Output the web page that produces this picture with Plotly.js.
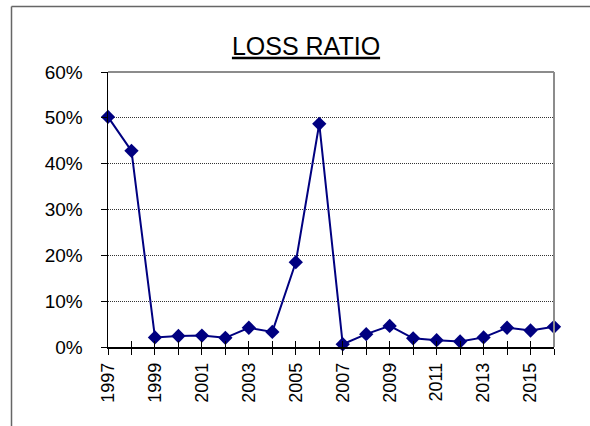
<!DOCTYPE html>
<html>
<head>
<meta charset="utf-8">
<script src="https://cdn.plot.ly/plotly-3.0.1.min.js"></script>
<style>
html,body{margin:0;padding:0;background:#fff;}
#chart{width:590px;height:426px;}
</style>
</head>
<body>
<div id="chart"></div>
<script>
var years = [1997,1998,1999,2000,2001,2002,2003,2004,2005,2006,2007,2008,2009,2010,2011,2012,2013,2014,2015,2016];
var lossRatio = [0.502,0.428,0.021,0.024,0.025,0.020,0.042,0.033,0.185,0.487,0.006,0.028,0.046,0.019,0.015,0.012,0.021,0.042,0.036,0.044];
var yTicks = [0,0.1,0.2,0.3,0.4,0.5,0.6];
var xLabelYears = [1997,1999,2001,2003,2005,2007,2009,2011,2013,2015];

var W = 590, H = 426, L = 108, R = 36, T = 72, B = 79;
var pw = W - L - R, ph = H - T - B;
function px(x){ return (x - L) / pw; }
function py(y){ return (H - B - y) / ph; }

var trace = {
  x: years, y: lossRatio, type: 'scatter', mode: 'lines+markers',
  line: {color: '#000080', width: 2},
  marker: {symbol: 'diamond', size: 11, color: '#000080'},
  cliponaxis: false, hoverinfo: 'skip', showlegend: false
};
var dummy = {x: [years[0]], y: [0], xaxis: 'x2', type: 'scatter', mode: 'markers',
  marker: {opacity: 0}, hoverinfo: 'skip', showlegend: false};

var layout = {
  width: W, height: H,
  margin: {l: L, r: R, t: T, b: B},
  paper_bgcolor: '#ffffff', plot_bgcolor: '#ffffff',
  font: {family: 'Liberation Sans, Arial, sans-serif', color: '#000'},
  title: {
    text: 'LOSS RATIO',
    font: {family: 'Liberation Sans, Arial, sans-serif', size: 25, color: '#000', lineposition: 'under'},
    x: 306 / W, xref: 'container', xanchor: 'center',
    y: 1 - 46 / H, yref: 'container', yanchor: 'middle'
  },
  xaxis: {
    type: 'linear', range: [years[0], years[years.length - 1]],
    tickmode: 'array', tickvals: xLabelYears, ticktext: xLabelYears.map(String),
    tickangle: -90, ticks: 'outside', ticklen: 6, tickcolor: '#000', tickwidth: 1,
    minor: {tickmode: 'array', tickvals: years, ticks: 'outside', ticklen: 6, tickcolor: '#000', tickwidth: 1, showgrid: false},
    tickfont: {family: 'Liberation Sans Narrow, Arial Narrow, sans-serif', size: 18, color: '#000'},
    showline: true, linecolor: '#000', linewidth: 1.5,
    showgrid: false, zeroline: false, fixedrange: true, ticklabelstandoff: 1
  },
  xaxis2: {
    overlaying: 'x', matches: 'x', type: 'linear', range: [years[0], years[years.length - 1]],
    tickmode: 'array', tickvals: years, ticks: 'inside', ticklen: 6, tickcolor: '#000', tickwidth: 1,
    showticklabels: false, showline: false, showgrid: false, zeroline: false, side: 'bottom', anchor: 'y'
  },
  yaxis: {
    range: [0, 0.6], tickmode: 'array', tickvals: yTicks, tickformat: '.0%',
    ticks: 'outside', ticklen: 6, tickcolor: '#000', tickwidth: 1,
    tickfont: {family: 'Liberation Sans, Arial, sans-serif', size: 19, color: '#000'},
    showline: true, linecolor: '#000', linewidth: 1.5,
    showgrid: true, gridcolor: '#333333', gridwidth: 1, griddash: '1px,1px',
    zeroline: false, fixedrange: true, ticklabelstandoff: 14
  },
  shapes: [
    {type: 'line', xref: 'paper', yref: 'paper', x0: 0, x1: 1, y0: 1, y1: 1, line: {color: '#8c8c8c', width: 2}},
    {type: 'line', xref: 'paper', yref: 'paper', x0: 1, x1: 1, y0: 0, y1: 1, line: {color: '#8c8c8c', width: 2}},
    {type: 'line', xref: 'paper', yref: 'paper', x0: px(11.5), x1: px(11.5), y0: py(6.5), y1: py(430), line: {color: '#666666', width: 1.5}},
    {type: 'line', xref: 'paper', yref: 'paper', x0: px(11.5), x1: px(600), y0: py(6.5), y1: py(6.5), line: {color: '#666666', width: 1.5}}
  ]
};

Plotly.newPlot('chart', [trace, dummy], layout, {displayModeBar: false, staticPlot: true});
</script>
</body>
</html>
